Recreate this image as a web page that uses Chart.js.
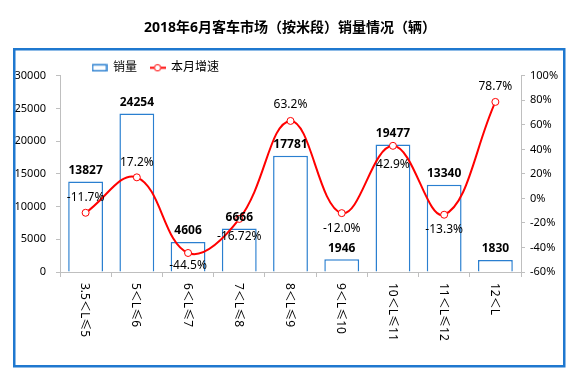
<!DOCTYPE html>
<html>
<head>
<meta charset="utf-8">
<script src="https://cdn.jsdelivr.net/npm/chart.js@4/dist/chart.umd.min.js"></script>
<style>
  html, body { margin: 0; padding: 0; background: #fff; }
  #wrap { width: 580px; height: 381px; position: relative; }
</style>
</head>
<body>
<div id="wrap"><canvas id="c" width="580" height="381"></canvas></div>
<script>
const categories = ['3.5＜L≤5', '5＜L≤6', '6＜L≤7', '7＜L≤8', '8＜L≤9', '9＜L≤10', '10＜L≤11', '11＜L≤12', '12＜L'];
const sales = [13827, 24254, 4606, 6666, 17781, 1946, 19477, 13340, 1830];
const growth = [-11.7, 17.2, -44.5, -16.72, 63.2, -12.0, 42.9, -13.3, 78.7];
const growthLabels = ['-11.7%', '17.2%', '-44.5%', '-16.72%', '63.2%', '-12.0%', '42.9%', '-13.3%', '78.7%'];
const leftTicks = [0, 5000, 10000, 15000, 20000, 25000, 30000];
const rightTicks = [-60, -40, -20, 0, 20, 40, 60, 80, 100];

const growthLabelDy = [-15, -15, 13, 18, -16, 15, 19, 15, -15];

const BLUE = '#2A7FD0';
const RED = '#FF0000';
const FONT = '"Noto Sans", "Noto Sans CJK SC", sans-serif';

function makeIcon(kind) {
  const c = document.createElement('canvas');
  c.width = 16; c.height = 9;
  const g = c.getContext('2d');
  if (kind === 'bar') {
    g.fillStyle = '#fff';
    g.fillRect(1, 1, 14, 7);
    g.strokeStyle = BLUE; g.lineWidth = 1.5;
    g.strokeRect(1, 1.5, 14, 6);
  } else {
    g.strokeStyle = RED; g.lineWidth = 2;
    g.beginPath(); g.moveTo(0, 4.5); g.lineTo(16, 4.5); g.stroke();
    g.fillStyle = '#fff'; g.lineWidth = 1;
    g.beginPath(); g.arc(8, 4.5, 3.2, 0, Math.PI * 2); g.fill(); g.stroke();
  }
  return c;
}
const barIcon = makeIcon('bar');
const lineIcon = makeIcon('line');

const framePlugin = {
  id: 'frame',
  afterLayout(chart) {
    const lg = chart.legend;
    if (lg) { lg.left = 79; lg.top += 8; }
  },
  afterDraw(chart) {
    const ctx = chart.ctx;
    ctx.save();
    ctx.strokeStyle = '#1F78CF';
    ctx.lineWidth = 2.5;
    ctx.strokeRect(14.25, 49.25, 550, 317);
    ctx.restore();
  }
};

const labelPlugin = {
  id: 'valueLabels',
  afterDatasetsDraw(chart) {
    const ctx = chart.ctx;
    ctx.save();
    const barMeta = chart.getDatasetMeta(0);
    ctx.fillStyle = '#000';
    ctx.textAlign = 'center';
    ctx.textBaseline = 'middle';
    ctx.font = 'bold 12px ' + FONT;
    barMeta.data.forEach((el, i) => {
      ctx.fillText(String(sales[i]), el.x, el.y - 11);
    });
    const lineMeta = chart.getDatasetMeta(1);
    ctx.font = '12px ' + FONT;
    lineMeta.data.forEach((el, i) => {
      ctx.fillText(growthLabels[i], el.x, el.y + growthLabelDy[i]);
    });
    // category labels, rotated clockwise
    const xs = chart.scales.x;
    ctx.font = '12px ' + FONT;
    ctx.textAlign = 'left';
    ctx.textBaseline = 'middle';
    categories.forEach((lab, i) => {
      const x = xs.getPixelForTick(i);
      ctx.save();
      ctx.translate(x - 1, xs.top + 11);
      ctx.rotate(Math.PI / 2);
      ctx.fillText(lab, 0, 0);
      ctx.restore();
    });
    ctx.restore();
  }
};

new Chart(document.getElementById('c'), {
  data: {
    labels: categories,
    datasets: [
      {
        type: 'bar',
        label: '销量',
        data: sales,
        yAxisID: 'y',
        backgroundColor: '#ffffff',
        borderColor: BLUE,
        borderWidth: 1.5,
        categoryPercentage: 1,
        barPercentage: 0.68,
        order: 2
      },
      {
        type: 'line',
        label: '本月增速',
        data: growth,
        yAxisID: 'y1',
        borderColor: RED,
        borderWidth: 2,
        tension: 0.4,
        pointRadius: 3.5,
        pointBackgroundColor: '#ffffff',
        pointBorderColor: RED,
        pointBorderWidth: 1,
        fill: false,
        order: 1
      }
    ]
  },
  options: {
    responsive: false,
    animation: false,
    events: [],
    layout: { padding: { left: 0, right: 0, top: 0, bottom: 103 } },
    plugins: {
      title: {
        display: true,
        text: '2018年6月客车市场（按米段）销量情况（辆）',
        color: '#000',
        font: { family: FONT, size: 14, weight: 'bold' },
        padding: { top: 20, bottom: 4 }
      },
      legend: {
        display: true,
        position: 'top',
        align: 'start',
        labels: {
          usePointStyle: true,
          pointStyleWidth: 15,
          padding: 13,
          color: '#000',
          font: { family: FONT, size: 12 },
          generateLabels() {
            return [
              { text: '销量', pointStyle: barIcon, fillStyle: '#fff', strokeStyle: BLUE, lineWidth: 0, datasetIndex: 0, fontColor: '#000' },
              { text: '本月增速', pointStyle: lineIcon, fillStyle: '#fff', strokeStyle: RED, lineWidth: 0, datasetIndex: 1, fontColor: '#000' }
            ];
          }
        }
      },
      tooltip: { enabled: false }
    },
    scales: {
      x: {
        offset: true,
        grid: { display: true, drawOnChartArea: false, tickLength: 5, color: '#BFBFBF', offset: true },
        border: { display: true, color: '#BFBFBF' },
        ticks: { display: false },
        afterFit(s) { s.height = 6; }
      },
      y: {
        position: 'left',
        min: 0, max: 30000,
        afterBuildTicks(s) { s.ticks = leftTicks.map(v => ({ value: v })); },
        grid: { display: true, drawOnChartArea: false, tickLength: 4, color: '#BFBFBF' },
        border: { display: true, color: '#BFBFBF' },
        ticks: { color: '#000', padding: 10, font: { family: FONT, size: 11 }, callback: v => String(v) },
        afterFit(s) { s.width = 60; }
      },
      y1: {
        position: 'right',
        min: -60, max: 100,
        afterBuildTicks(s) { s.ticks = rightTicks.map(v => ({ value: v })); },
        grid: { display: true, drawOnChartArea: false, tickLength: 4, color: '#BFBFBF' },
        border: { display: true, color: '#BFBFBF' },
        ticks: { color: '#000', padding: 5, font: { family: FONT, size: 11 }, callback: v => v + '%' },
        afterFit(s) { s.width = 59; }
      }
    }
  },
  plugins: [framePlugin, labelPlugin]
});
</script>
</body>
</html>
